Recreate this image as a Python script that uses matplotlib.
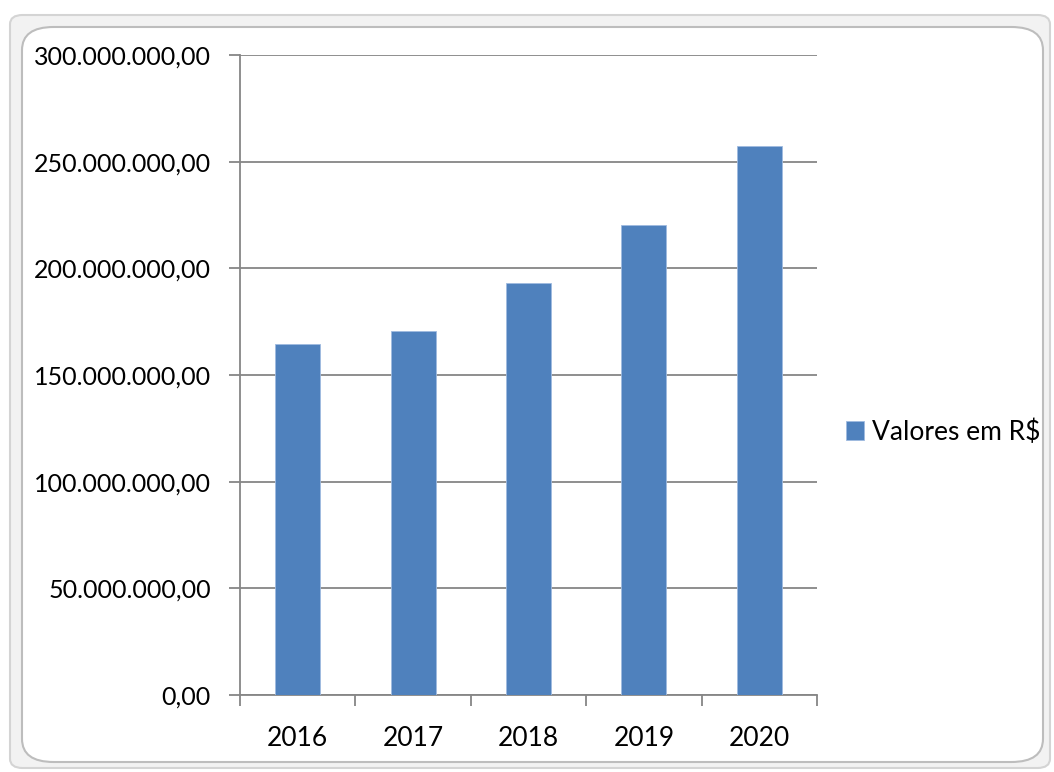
import matplotlib
matplotlib.use("Agg")
import matplotlib.pyplot as plt
from matplotlib.patches import FancyBboxPatch
from matplotlib.ticker import FuncFormatter, FixedLocator

# data
anos = ["2016", "2017", "2018", "2019", "2020"]
valores = [164.5e6, 170.6e6, 193.1e6, 220.3e6, 257.3e6]
serie = "Valores em R$"

bar_color = "#4F81BD"
grid_color = "#868686"
fsize = 19
plt.rcParams["font.family"] = ["Lato", "DejaVu Sans"]


def fmt_br(v, pos):
    s = f"{v:,.2f}"
    return s.replace(",", "X").replace(".", ",").replace("X", ".")


fig = plt.figure(figsize=(10.54, 7.72), dpi=100)

# chart frame (outer + inner rounded rectangles)
outer = FancyBboxPatch((10 / 1054, 1 - 768 / 772), 1040 / 1054, 753 / 772,
                       boxstyle="round,pad=0,rounding_size=0.012",
                       transform=fig.transFigure, facecolor="#f2f2f2",
                       edgecolor="#d4d4d4", lw=1.5, zorder=-2)
inner = FancyBboxPatch((22 / 1054, 1 - 762 / 772), 1021 / 1054, 735 / 772,
                       boxstyle="round,pad=0,rounding_size=0.03",
                       transform=fig.transFigure, facecolor="white",
                       edgecolor="#bdbdbd", lw=1.5, zorder=-1)
fig.patches.extend([outer, inner])

ax = fig.add_axes([240 / 1054, 1 - 695 / 772, 577 / 1054, 640 / 772])
ax.set_facecolor("none")
x = list(range(len(anos)))
ax.bar(x, valores, width=0.39, color=bar_color, edgecolor="#9fbbe0",
       linewidth=0.6, zorder=3, label=serie)

ax.set_xlim(-0.5, len(anos) - 0.5)
ax.set_ylim(0, 300e6)
ax.set_yticks([0, 50e6, 100e6, 150e6, 200e6, 250e6, 300e6])
ax.yaxis.set_major_formatter(FuncFormatter(fmt_br))
ax.yaxis.grid(True, color=grid_color, lw=1.3, zorder=1)
ax.set_axisbelow(True)

ax.set_xticks(x)
ax.set_xticklabels(anos)
ax.xaxis.set_minor_locator(FixedLocator([i - 0.5 for i in range(len(anos) + 1)]))
ax.tick_params(axis="x", which="major", length=0, pad=22, labelsize=fsize)
ax.tick_params(axis="x", which="minor", length=8, width=1.3, color=grid_color,
               direction="out")
ax.tick_params(axis="y", length=8, width=1.3, color=grid_color, labelsize=18,
               pad=13)

for side in ["top", "right"]:
    ax.spines[side].set_visible(False)
for side in ["left", "bottom"]:
    ax.spines[side].set_color(grid_color)
    ax.spines[side].set_linewidth(1.3)

leg = fig.legend(loc="center left", bbox_to_anchor=(822 / 1054, 1 - 432 / 772),
                 frameon=False, fontsize=fsize, handlelength=0.7,
                 handleheight=0.7, handletextpad=0.3)

fig.savefig("out.png", dpi=100)
